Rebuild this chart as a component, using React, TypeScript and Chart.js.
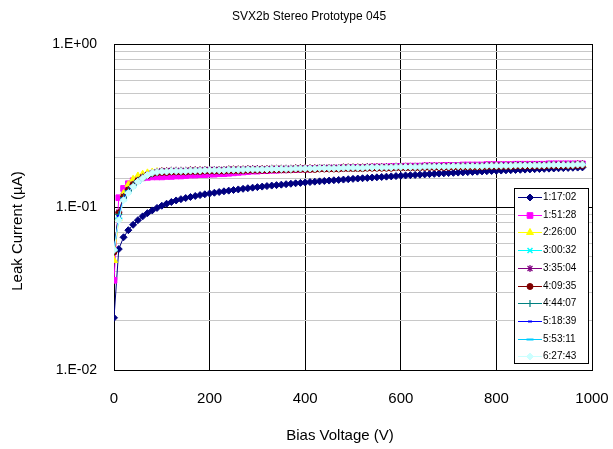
import React, { useEffect, useRef } from 'react';
import { Chart, registerables } from 'chart.js';
import { drawPoint } from 'chart.js/helpers';

Chart.register(...registerables);

const FONT = "'Liberation Sans', Arial, Helvetica, sans-serif";

const chartTitle = 'SVX2b Stereo Prototype 045';
const xAxisTitle = 'Bias Voltage (V)';
const yAxisTitle = 'Leak Current (µA)';
const yTickValues = [0.01, 0.1, 1];
const yTickLabels = ['1.E-02', '1.E-01', '1.E+00'];

const seriesNames = ['1:17:02', '1:51:28', '2:26:00', '3:00:32', '3:35:04', '4:09:35', '4:44:07', '5:18:39', '5:53:11', '6:27:43'];

const voltages = [
  0, 10, 20, 30, 40, 50, 60, 70, 80, 90,
  100, 110, 120, 130, 140, 150, 160, 170, 180, 190,
  200, 210, 220, 230, 240, 250, 260, 270, 280, 290,
  300, 310, 320, 330, 340, 350, 360, 370, 380, 390,
  400, 410, 420, 430, 440, 450, 460, 470, 480, 490,
  500, 510, 520, 530, 540, 550, 560, 570, 580, 590,
  600, 610, 620, 630, 640, 650, 660, 670, 680, 690,
  700, 710, 720, 730, 740, 750, 760, 770, 780, 790,
  800, 810, 820, 830, 840, 850, 860, 870, 880, 890,
  900, 910, 920, 930, 940, 950, 960, 970, 980,
];

const s1 = [
  0.0209, 0.0552, 0.0652, 0.0721, 0.0778, 0.0830, 0.0876, 0.0917, 0.0953, 0.0987,
  0.1018, 0.1047, 0.1073, 0.1097, 0.1117, 0.1135, 0.1152, 0.1168, 0.1183, 0.1197,
  0.1210, 0.1223, 0.1236, 0.1248, 0.1260, 0.1271, 0.1282, 0.1293, 0.1304, 0.1314,
  0.1324, 0.1334, 0.1344, 0.1353, 0.1362, 0.1371, 0.1380, 0.1389, 0.1398, 0.1406,
  0.1414, 0.1422, 0.1430, 0.1437, 0.1444, 0.1452, 0.1459, 0.1466, 0.1473, 0.1481,
  0.1488, 0.1495, 0.1501, 0.1508, 0.1515, 0.1521, 0.1528, 0.1535, 0.1541, 0.1548,
  0.1555, 0.1561, 0.1567, 0.1573, 0.1579, 0.1585, 0.1591, 0.1597, 0.1603, 0.1609,
  0.1615, 0.1620, 0.1626, 0.1631, 0.1637, 0.1642, 0.1647, 0.1653, 0.1658, 0.1663,
  0.1668, 0.1673, 0.1678, 0.1682, 0.1687, 0.1692, 0.1696, 0.1701, 0.1706, 0.1710,
  0.1715, 0.1719, 0.1723, 0.1728, 0.1732, 0.1737, 0.1741, 0.1745, 0.1750,
];

// plateau portions (100 V .. 980 V)
const tailMid = [
  0.165, 0.165, 0.166, 0.166, 0.166, 0.166, 0.167, 0.167, 0.167, 0.168,
  0.168, 0.168, 0.168, 0.168, 0.169, 0.169, 0.169, 0.169, 0.170, 0.170,
  0.170, 0.170, 0.170, 0.171, 0.171, 0.171, 0.171, 0.171, 0.172, 0.172,
  0.172, 0.172, 0.172, 0.173, 0.173, 0.173, 0.173, 0.173, 0.174, 0.174,
  0.174, 0.174, 0.174, 0.175, 0.175, 0.175, 0.175, 0.175, 0.175, 0.176,
  0.176, 0.176, 0.176, 0.176, 0.176, 0.177, 0.177, 0.177, 0.177, 0.177,
  0.177, 0.178, 0.178, 0.178, 0.178, 0.178, 0.178, 0.178, 0.179, 0.179,
  0.179, 0.179, 0.179, 0.179, 0.180, 0.180, 0.180, 0.180, 0.180, 0.180,
  0.180, 0.181, 0.181, 0.181, 0.181, 0.181, 0.181, 0.182, 0.182,
];
const tailHigh = [
  0.167, 0.167, 0.168, 0.168, 0.168, 0.168, 0.169, 0.169, 0.169, 0.170,
  0.170, 0.170, 0.170, 0.170, 0.171, 0.171, 0.171, 0.171, 0.172, 0.172,
  0.172, 0.172, 0.172, 0.173, 0.173, 0.173, 0.173, 0.173, 0.174, 0.174,
  0.174, 0.174, 0.174, 0.175, 0.175, 0.175, 0.175, 0.175, 0.176, 0.176,
  0.176, 0.176, 0.176, 0.177, 0.177, 0.177, 0.177, 0.177, 0.177, 0.178,
  0.178, 0.178, 0.178, 0.178, 0.178, 0.179, 0.179, 0.179, 0.179, 0.179,
  0.179, 0.180, 0.180, 0.180, 0.180, 0.180, 0.180, 0.180, 0.181, 0.181,
  0.181, 0.181, 0.181, 0.181, 0.182, 0.182, 0.182, 0.182, 0.182, 0.182,
  0.182, 0.183, 0.183, 0.183, 0.183, 0.183, 0.183, 0.184, 0.184,
];
const tailLow = [
  0.163, 0.163, 0.164, 0.164, 0.164, 0.164, 0.165, 0.165, 0.165, 0.166,
  0.166, 0.166, 0.166, 0.166, 0.167, 0.167, 0.167, 0.167, 0.168, 0.168,
  0.168, 0.168, 0.168, 0.169, 0.169, 0.169, 0.169, 0.169, 0.170, 0.170,
  0.170, 0.170, 0.170, 0.171, 0.171, 0.171, 0.171, 0.171, 0.172, 0.172,
  0.172, 0.172, 0.172, 0.173, 0.173, 0.173, 0.173, 0.173, 0.173, 0.174,
  0.174, 0.174, 0.174, 0.174, 0.174, 0.175, 0.175, 0.175, 0.175, 0.175,
  0.175, 0.176, 0.176, 0.176, 0.176, 0.176, 0.176, 0.176, 0.177, 0.177,
  0.177, 0.177, 0.177, 0.177, 0.178, 0.178, 0.178, 0.178, 0.178, 0.178,
  0.178, 0.179, 0.179, 0.179, 0.179, 0.179, 0.179, 0.180, 0.180,
];
const tailMagenta = [
  0.153, 0.154, 0.154, 0.155, 0.155, 0.156, 0.157, 0.157, 0.158, 0.158,
  0.159, 0.159, 0.160, 0.160, 0.161, 0.162, 0.163, 0.164, 0.165, 0.166,
  0.166, 0.167, 0.167, 0.168, 0.168, 0.169, 0.169, 0.170, 0.170, 0.171,
  0.171, 0.171, 0.172, 0.172, 0.172, 0.173, 0.173, 0.173, 0.174, 0.174,
  0.174, 0.175, 0.175, 0.175, 0.176, 0.176, 0.176, 0.176, 0.177, 0.177,
  0.177, 0.178, 0.178, 0.178, 0.178, 0.179, 0.179, 0.179, 0.179, 0.180,
  0.180, 0.180, 0.180, 0.181, 0.181, 0.181, 0.181, 0.181, 0.182, 0.182,
  0.182, 0.182, 0.182, 0.182, 0.183, 0.183, 0.183, 0.183, 0.183, 0.183,
  0.183, 0.184, 0.184, 0.184, 0.184, 0.184, 0.184, 0.184, 0.184,
];

// rising portions (0 V .. 90 V)
const head2 = [0.0355, 0.114, 0.130, 0.139, 0.145, 0.148, 0.151, 0.152, 0.153, 0.153];
const head3 = [0.047, 0.085, 0.121, 0.137, 0.148, 0.155, 0.159, 0.162, 0.164, 0.165];
const head4 = [0.054, 0.086, 0.112, 0.124, 0.135, 0.144, 0.151, 0.157, 0.161, 0.164];
const head5 = [0.053, 0.093, 0.116, 0.128, 0.138, 0.146, 0.153, 0.158, 0.162, 0.165];
const head6 = [0.053, 0.092, 0.115, 0.127, 0.137, 0.145, 0.151, 0.156, 0.160, 0.162];
const head7 = [0.0535, 0.090, 0.114, 0.126, 0.136, 0.145, 0.151, 0.156, 0.160, 0.163];
const head8 = [0.054, 0.088, 0.113, 0.125, 0.135, 0.144, 0.150, 0.156, 0.160, 0.162];
const head9 = [0.0545, 0.085, 0.111, 0.123, 0.134, 0.143, 0.150, 0.156, 0.161, 0.164];
const head10 = [0.0545, 0.083, 0.110, 0.122, 0.133, 0.143, 0.150, 0.157, 0.162, 0.164];

const s2 = [...head2, ...tailMagenta];
const s3 = [...head3, ...tailMid];
const s4 = [...head4, ...tailMid];
const s5 = [...head5, ...tailHigh];
const s6 = [...head6, ...tailLow];
const s7 = [...head7, ...tailMid];
const s8 = [...head8, ...tailLow];
const s9 = [...head9, ...tailMid];
const s10 = [...head10, ...tailMid];

const seriesValues = [s1, s2, s3, s4, s5, s6, s7, s8, s9, s10];
const seriesColors = ['#000080', '#FF00FF', '#FFFF00', '#00FFFF', '#800080', '#800000', '#008080', '#0000FF', '#00CCFF', '#CCFFFF'];
const seriesMarkers = ['rectRot', 'rect', 'triangle', 'crossRot', 'star', 'circle', 'cross', 'line', 'line', 'rectRot'];
const markerRadius = [3.5, 4, 4, 3.5, 3.5, 3, 3.5, 2, 3.5, 3.5];
const markerBorder = [1, 1, 1, 1.5, 1.2, 1, 1.2, 2, 2, 1];

const overlayPlugin = {
  id: 'overlay',
  afterDraw(chart: any) {
    const ctx = chart.ctx;
    ctx.save();
    ctx.fillStyle = '#000';
    ctx.textAlign = 'center';
    ctx.textBaseline = 'middle';
    ctx.font = `12px ${FONT}`;
    ctx.fillText(chartTitle, 309, 17);

    ctx.font = `15px ${FONT}`;
    ctx.fillText(xAxisTitle, 340, 436);
    ctx.save();
    ctx.translate(18, 231);
    ctx.rotate(-Math.PI / 2);
    ctx.fillText(yAxisTitle, 0, 0);
    ctx.restore();

    const lx = 514.5, ly = 188.5, lw = 74, lh = 175;
    ctx.fillStyle = '#fff';
    ctx.fillRect(lx, ly, lw, lh);
    ctx.strokeStyle = '#000';
    ctx.lineWidth = 1;
    ctx.strokeRect(lx, ly, lw, lh);
    ctx.font = `10px ${FONT}`;
    ctx.textAlign = 'left';
    chart.data.datasets.forEach((ds: any, i: number) => {
      const y = Math.round(197 + i * 17.7) + 0.5;
      ctx.strokeStyle = ds.borderColor;
      ctx.lineWidth = 1;
      ctx.beginPath();
      ctx.moveTo(518, y);
      ctx.lineTo(542, y);
      ctx.stroke();
      ctx.fillStyle = ds.pointBackgroundColor;
      ctx.strokeStyle = ds.pointBorderColor;
      ctx.lineWidth = ds.pointBorderWidth;
      drawPoint(ctx, { pointStyle: ds.pointStyle, radius: ds.pointRadius, borderWidth: ds.pointBorderWidth, rotation: 0 }, 530, y);
      ctx.fillStyle = '#000';
      ctx.fillText(ds.label, 543, y);
    });
    ctx.restore();
  },
};

function isDecade(v: number) {
  const l = Math.log10(v);
  return Math.abs(l - Math.round(l)) < 1e-6;
}

export default function App() {
  const ref = useRef<HTMLCanvasElement | null>(null);
  useEffect(() => {
    if (!ref.current) return;
    const datasets = seriesNames.map((name, i) => ({
      label: name,
      data: voltages.map((v, j) => ({ x: v, y: seriesValues[i][j] })),
      borderColor: seriesColors[i],
      backgroundColor: seriesColors[i],
      pointBackgroundColor: seriesColors[i],
      pointBorderColor: seriesColors[i],
      pointStyle: seriesMarkers[i],
      pointRadius: markerRadius[i],
      pointBorderWidth: markerBorder[i],
      borderWidth: 1,
      tension: 0,
      fill: false,
      order: seriesNames.length - i,
    }));
    const chart = new Chart(ref.current, {
      type: 'line',
      data: { datasets },
      plugins: [overlayPlugin],
      options: {
        animation: false,
        responsive: false,
        devicePixelRatio: 1,
        layout: { padding: { left: 0, right: 21, top: 44, bottom: 0 } },
        plugins: { legend: { display: false }, title: { display: false }, tooltip: { enabled: false } },
        scales: {
          x: {
            type: 'linear',
            min: 0,
            max: 1000,
            ticks: {
              stepSize: 200,
              color: '#000',
              font: { family: FONT, size: 15 },
              padding: 20,
              maxRotation: 0,
              callback: (v: any) => String(v),
            },
            grid: { color: '#000', drawTicks: false, lineWidth: 1 },
            border: { color: '#000', width: 1 },
            afterFit: (s: any) => {
              s.height = 79;
              s.paddingLeft = 0;
              s.paddingRight = 0;
            },
          },
          y: {
            type: 'logarithmic',
            min: 0.01,
            max: 1,
            ticks: {
              color: '#000',
              font: { family: FONT, size: 14 },
              padding: 17,
              autoSkip: false,
              callback: (v: any) => {
                const idx = yTickValues.findIndex((t) => Math.abs(Math.log10(t) - Math.log10(Number(v))) < 1e-6);
                return idx >= 0 ? yTickLabels[idx] : '';
              },
            },
            grid: {
              color: (c: any) => (c.tick && isDecade(c.tick.value) ? '#000' : '#C8C8C8'),
              drawTicks: false,
              lineWidth: 1,
            },
            border: { color: '#000', width: 1 },
            afterFit: (s: any) => {
              s.width = 114;
              s.paddingTop = 0;
              s.paddingBottom = 0;
            },
          },
        },
      },
    } as any);
    return () => chart.destroy();
  }, []);
  return (
    <div style={{ position: 'absolute', left: 0, top: 0, width: 613, height: 449, background: '#fff' }}>
      <canvas ref={ref} width={613} height={449} style={{ width: 613, height: 449, display: 'block' }} />
    </div>
  );
}
